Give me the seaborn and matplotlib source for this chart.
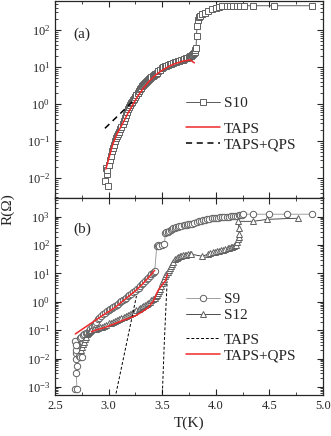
import numpy as np
import pandas as pd
import matplotlib
matplotlib.use("Agg")
import matplotlib.pyplot as plt
import seaborn as sns
from matplotlib.ticker import MultipleLocator, LogLocator

# --- panel (a): sample S10 ---
s10_T = [2.966, 2.994, 2.985, 2.975, 2.99, 3.0, 3.01, 3.02, 3.03, 3.04, 3.05, 3.06,
         3.07, 3.08, 3.09, 3.10, 3.11, 3.12, 3.13, 3.14, 3.15, 3.16, 3.17, 3.18,
         3.19, 3.20, 3.21, 3.22, 3.23, 3.24, 3.25, 3.26, 3.27, 3.28, 3.29, 3.30,
         3.31, 3.32, 3.33, 3.34, 3.35, 3.36, 3.37, 3.38, 3.39, 3.40, 3.41, 3.42,
         3.43, 3.44, 3.45, 3.465, 3.48, 3.495, 3.51, 3.525, 3.54, 3.555, 3.57,
         3.585, 3.60, 3.615, 3.63, 3.645, 3.66, 3.675, 3.69, 3.705, 3.72, 3.735,
         3.75, 3.76, 3.77, 3.78, 3.79, 3.80, 3.805, 3.81, 3.815, 3.82, 3.825, 3.83,
         3.84, 3.85, 3.87, 3.9, 3.93, 3.96, 4.0, 4.03, 4.06, 4.1, 4.13, 4.16, 4.2,
         4.23, 4.26, 4.35, 4.54, 4.9]
s10_R = [0.0083, 0.006, 0.013, 0.0186, 0.016, 0.022, 0.03, 0.04, 0.054, 0.066,
         0.08, 0.1, 0.12, 0.14, 0.155, 0.18, 0.21, 0.24, 0.28, 0.35, 0.42, 0.5, 0.6,
         0.72, 0.85, 0.95, 1.05, 1.15, 1.25, 1.4, 1.55, 1.75, 2.0, 2.25, 2.5, 2.75,
         3.0, 3.25, 3.5, 3.75, 4.0, 4.25, 4.5, 4.75, 5.0, 5.3, 5.6, 5.9, 6.3, 6.6,
         7.0, 7.8, 8.5, 9.2, 9.8, 10.3, 10.8, 11.3, 11.8, 12.3, 12.9, 13.3, 13.8,
         14.3, 14.8, 15.3, 15.8, 16.4, 17, 17.7, 18.5, 19.2, 20, 21, 22.4, 24, 26,
         28, 32, 70, 129, 180, 220, 240, 270, 290, 330, 360, 400, 420, 430, 440,
         445, 447, 450, 450, 450, 450, 450, 450]

taps_a_T = [2.975, 3.0, 3.04, 3.08, 3.135, 3.18, 3.23, 3.27, 3.32, 3.38, 3.45, 3.51,
            3.57, 3.63, 3.70, 3.76, 3.80]
taps_a_R = [0.0174, 0.032, 0.083, 0.158, 0.31, 0.56, 1.0, 1.58, 2.57, 4.17, 6.46,
            8.5, 10.7, 12.6, 14.5, 15.5, 12.9]

qps_a_T = [2.966, 3.1, 3.25]
qps_a_R = [0.22, 0.52, 1.38]

# --- panel (b): samples S9 and S12 ---
s9_T = [2.69, 2.705, 2.70, 2.71, 2.70, 2.695, 2.72, 2.73, 2.70, 2.71, 2.70, 2.69,
        2.70, 2.75, 2.73, 2.745, 2.76, 2.775, 2.79, 2.80, 2.815, 2.83, 2.845, 2.86,
        2.87, 2.885, 2.90, 2.915, 2.93, 2.95, 2.97, 2.985, 3.0, 3.015, 3.03, 3.045,
        3.06, 3.075, 3.09, 3.105, 3.12, 3.135, 3.15, 3.165, 3.18, 3.195, 3.21, 3.23,
        3.25, 3.265, 3.28, 3.295, 3.31, 3.325, 3.34, 3.355, 3.37, 3.385, 3.40, 3.41,
        3.42, 3.43, 3.45, 3.46, 3.47, 3.50, 3.52, 3.53, 3.54, 3.55, 3.565, 3.58,
        3.59, 3.6, 3.615, 3.63, 3.645, 3.66, 3.68, 3.7, 3.715, 3.73, 3.745, 3.76,
        3.78, 3.8, 3.82, 3.84, 3.86, 3.88, 3.9, 3.92, 3.94, 3.96, 3.98, 4.0, 4.02,
        4.04, 4.06, 4.08, 4.1, 4.12, 4.14, 4.16, 4.18, 4.2, 4.215, 4.23, 4.24, 4.25,
        4.35, 4.5, 4.66, 4.9]
s9_R = [0.00085, 0.00085, 0.003, 0.0056, 0.01, 0.016, 0.0125, 0.011, 0.02, 0.029,
        0.035, 0.043, 0.03, 0.011, 0.055, 0.06, 0.066, 0.072, 0.078, 0.081, 0.095,
        0.11, 0.13, 0.155, 0.17, 0.2, 0.24, 0.275, 0.32, 0.36, 0.41, 0.46, 0.5,
        0.55, 0.6, 0.66, 0.72, 0.79, 0.87, 0.95, 1.05, 1.15, 1.26, 1.41, 1.58, 1.76,
        1.95, 2.19, 2.45, 2.79, 3.16, 3.63, 4.17, 4.79, 5.5, 6.3, 7.2, 8.3, 9.5,
        10.5, 11.2, 12.3, 95, 100, 90, 100, 107, 260, 280, 300, 325, 350, 375, 400,
        410, 420, 445, 470, 485, 500, 515, 530, 540, 550, 575, 600, 640, 680, 715,
        750, 780, 810, 840, 870, 895, 920, 935, 950, 965, 980, 1000, 1020, 1040,
        1060, 1080, 1100, 1120, 1150, 1190, 1230, 1230, 1230, 1230, 1230]

s12_T = [2.74, 2.75, 2.76, 2.77, 2.78, 2.79, 2.80, 2.81, 2.82, 2.83, 2.84, 2.86,
         2.88, 2.90, 2.92, 2.94, 2.96, 2.98, 3.0, 3.02, 3.04, 3.06, 3.08, 3.10, 3.12,
         3.14, 3.16, 3.18, 3.2, 3.22, 3.24, 3.26, 3.28, 3.295, 3.31, 3.325, 3.34,
         3.355, 3.37, 3.385, 3.40, 3.415, 3.43, 3.44, 3.45, 3.46, 3.47, 3.48, 3.49,
         3.50, 3.51, 3.52, 3.53, 3.54, 3.55, 3.56, 3.57, 3.58, 3.59, 3.605, 3.62,
         3.635, 3.65, 3.665, 3.68, 3.695, 3.71, 3.725, 3.74, 3.755, 3.77, 3.87, 3.93,
         3.95, 3.97, 3.99, 4.01, 4.03, 4.05, 4.07, 4.09, 4.11, 4.125, 4.14, 4.155,
         4.17, 4.18, 4.19, 4.2, 4.21, 4.215, 4.22, 4.215, 4.21, 4.35, 4.48, 4.77]
s12_R = [0.02, 0.025, 0.032, 0.04, 0.05, 0.06, 0.071, 0.079, 0.089, 0.095, 0.1,
         0.107, 0.112, 0.12, 0.126, 0.135, 0.141, 0.158, 0.174, 0.186, 0.2, 0.216,
         0.234, 0.257, 0.28, 0.3, 0.32, 0.35, 0.38, 0.41, 0.44, 0.5, 0.56, 0.61,
         0.66, 0.72, 0.79, 0.85, 0.91, 1.0, 1.12, 1.26, 1.41, 1.58, 1.78, 2.1, 2.5,
         2.95, 3.55, 4.47, 5.6, 6.6, 7.9, 9.3, 11.2, 13.2, 15.8, 18.6, 22.4, 26.3,
         31.6, 34.7, 38, 39.8, 41.7, 43.2, 44.7, 46.2, 47.9, 47.9, 47.9, 40.7, 47.9,
         52.5, 55, 57.5, 60, 63, 66, 69, 72, 76, 79, 83, 88, 93, 98, 105, 126, 158,
         200, 245, 400, 690, 690, 810, 890]

taps_b1_T = [3.06, 3.16, 3.26]
taps_b1_R = [0.0004, 0.025, 1.62]
taps_b2_T = [3.50, 3.52, 3.545]
taps_b2_R = [0.0004, 0.04, 4.3]

qps_b1_T = [2.69, 2.78, 2.87, 2.96, 3.06, 3.15, 3.25, 3.31, 3.37, 3.43]
qps_b1_R = [0.074, 0.126, 0.214, 0.363, 0.63, 1.2, 2.45, 3.98, 7.08, 12.9]
qps_b2_T = [2.84, 2.9, 2.97, 3.05, 3.12, 3.19, 3.25, 3.31, 3.37, 3.42, 3.46, 3.50,
            3.53, 3.55]
qps_b2_R = [0.089, 0.107, 0.126, 0.166, 0.214, 0.263, 0.324, 0.437, 0.63, 1.1,
            2.45, 3.98, 5.5, 9.5]

sns.set_style("ticks")
plt.rcParams['font.family'] = ['Liberation Serif', 'DejaVu Serif']
plt.rcParams['mathtext.fontset'] = 'stix'

fig, (ax1, ax2) = plt.subplots(2, 1, sharex=True, figsize=(3.31, 4.36), dpi=100)
fig.subplots_adjust(left=0.166, right=0.976, bottom=0.094, top=0.998, hspace=0)

red = '#f02828'
mk = dict(markerfacecolor='white', markeredgecolor='#606060', markeredgewidth=0.7,
          markersize=4.6)


def curve(ax, T, R, **kw):
    df = pd.DataFrame({'T': T, 'R': R})
    sns.lineplot(data=df, x='T', y='R', ax=ax, estimator=None, sort=False, **kw)


# panel (a)
curve(ax1, s10_T, s10_R, color='#404040', lw=0.6, marker='s', label='S10', **mk)
curve(ax1, taps_a_T, taps_a_R, color=red, lw=1.1, label='TAPS')
curve(ax1, qps_a_T, qps_a_R, color='black', lw=1.1, ls=(0, (4, 3)), label='TAPS+QPS')

# panel (b)
curve(ax2, s9_T, s9_R, color='#909090', lw=0.6, marker='o', label='S9', **mk)
curve(ax2, s12_T, s12_R, color='#303030', lw=0.6, marker='^', label='S12', **mk)
curve(ax2, taps_b1_T, taps_b1_R, color='black', lw=0.7, ls=(0, (3, 2)), label='TAPS')
curve(ax2, taps_b2_T, taps_b2_R, color='black', lw=0.7, ls=(0, (3, 2)))
curve(ax2, qps_b1_T, qps_b1_R, color=red, lw=1.1, label='TAPS+QPS')
curve(ax2, qps_b2_T, qps_b2_R, color=red, lw=1.1)

for ax in (ax1, ax2):
    ax.set_yscale('log')
    ax.set_xlabel('')
    ax.set_ylabel('')
    ax.tick_params(which='both', direction='in', top=True, right=True, labelsize=9)
    ax.tick_params(which='major', length=4, width=0.8)
    ax.tick_params(which='minor', length=2.2, width=0.6)
    ax.yaxis.set_major_locator(LogLocator(base=10, numticks=12))
    ax.yaxis.set_minor_locator(LogLocator(base=10, subs=np.arange(2, 10), numticks=12))
    ax.xaxis.set_major_locator(MultipleLocator(0.5))
    ax.xaxis.set_minor_locator(MultipleLocator(0.25))
    for s in ax.spines.values():
        s.set_linewidth(0.9)

ax1.set_xlim(2.5, 5.0)
ax1.set_ylim(2.9e-3, 6.1e2)
ax2.set_ylim(5.2e-4, 4.6e3)

leg_kw = dict(frameon=False, fontsize=11, handlelength=2.2, handletextpad=0.25,
              labelspacing=0.15, borderpad=0, borderaxespad=0, loc='center left')

h, l = ax1.get_legend_handles_labels()
lg = ax1.legend(h[:1], l[:1], bbox_to_anchor=(0.49, 0.48), **leg_kw)
ax1.add_artist(lg)
ax1.legend(h[1:], l[1:], bbox_to_anchor=(0.49, 0.31), **leg_kw)

h, l = ax2.get_legend_handles_labels()
lg = ax2.legend(h[:2], l[:2], bbox_to_anchor=(0.49, 0.445), **leg_kw)
ax2.add_artist(lg)
ax2.legend(h[2:], l[2:], bbox_to_anchor=(0.49, 0.24), **leg_kw)

ax1.text(0.067, 0.83, '(a)', transform=ax1.transAxes, fontsize=11, va='center')
ax2.text(0.067, 0.84, '(b)', transform=ax2.transAxes, fontsize=11, va='center')

ax2.set_xlabel('T(K)', fontsize=11, labelpad=3)
fig.text(0.025, 0.52, 'R(Ω)', rotation=90, fontsize=11, va='center', ha='center')

fig.savefig('out.png', dpi=100)
